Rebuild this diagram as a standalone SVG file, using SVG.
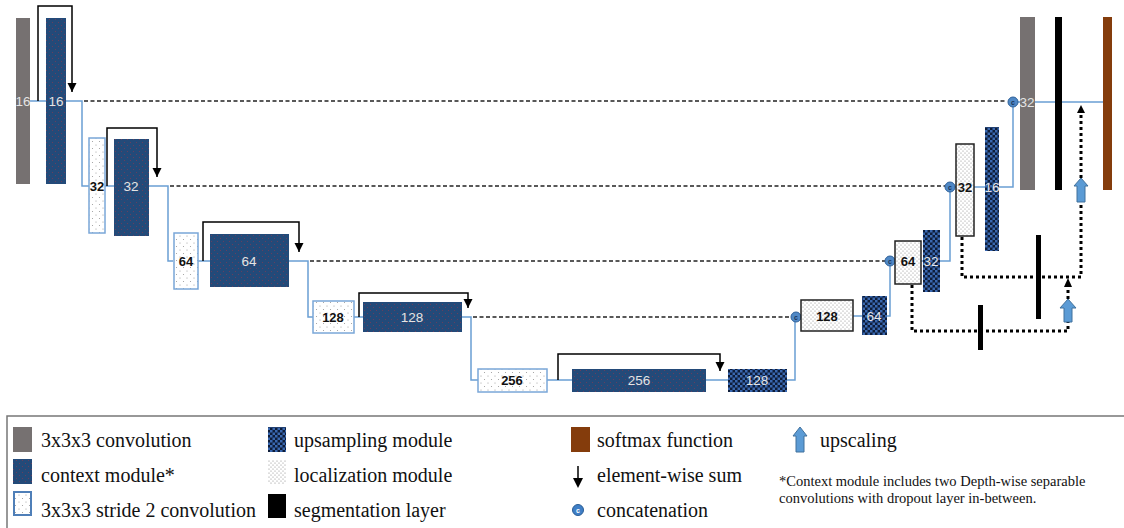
<svg xmlns="http://www.w3.org/2000/svg" width="1124" height="528" viewBox="0 0 1124 528">
<defs>
<pattern id="pctx" width="6" height="6" patternUnits="userSpaceOnUse">
<rect width="6" height="6" fill="#234a79"/>
<circle cx="1.5" cy="1.5" r="0.45" fill="#b03040"/>
<circle cx="4.5" cy="4.5" r="0.45" fill="#b03040"/>
</pattern>
<pattern id="pups" width="5" height="5" patternUnits="userSpaceOnUse">
<rect width="5" height="5" fill="#0e1d3a"/>
<rect width="2.5" height="2.5" fill="#3a68b0"/>
<rect x="2.5" y="2.5" width="2.5" height="2.5" fill="#3a68b0"/>
</pattern>
<pattern id="ploc" width="4" height="4" patternUnits="userSpaceOnUse">
<rect width="4" height="4" fill="#fff"/>
<circle cx="1" cy="1" r="0.6" fill="#8a8a8a"/>
<circle cx="3" cy="3" r="0.6" fill="#8a8a8a"/>
</pattern>
<pattern id="pstr" width="7" height="7" patternUnits="userSpaceOnUse">
<rect width="7" height="7" fill="#fff"/>
<circle cx="1.5" cy="1.5" r="0.55" fill="#999"/>
<circle cx="5" cy="5" r="0.55" fill="#999"/>
</pattern>
<marker id="ah" markerWidth="10" markerHeight="10" refX="5" refY="9" orient="0" markerUnits="userSpaceOnUse">
<path d="M0.5,0 L9.5,0 L5,9 Z" fill="#000"/>
</marker>
</defs>
<style>
.conv{fill:#767171}
.ctx{fill:url(#pctx)}
.ups{fill:url(#pups)}
.loc{fill:url(#ploc);stroke:#222;stroke-width:1.5}
.str{fill:url(#pstr);stroke:#7aa7d8;stroke-width:1.5}
.seg{fill:#000}
.soft{fill:#843c0c}
.lw{font-family:"Liberation Sans",Arial,sans-serif;font-size:13.5px;fill:#e4e4e4;text-anchor:middle;dominant-baseline:central}
.lb{font-family:"Liberation Sans",Arial,sans-serif;font-size:13px;font-weight:bold;fill:#111;text-anchor:middle;dominant-baseline:central}
.blue{fill:none;stroke:#6a9fd4;stroke-width:1.5}
.dash{fill:none;stroke:#222;stroke-width:1.7;stroke-dasharray:4 2.5}
.skip{fill:none;stroke:#000;stroke-width:1.5}
.dot{fill:none;stroke:#000;stroke-width:3;stroke-dasharray:3 3}
.cc{fill:#4f88c6;stroke:#2f6199;stroke-width:1}
.cct{font-family:"Liberation Sans",Arial,sans-serif;font-size:7px;font-weight:bold;fill:#1b3558;text-anchor:middle;dominant-baseline:central}
.up{fill:#5b9bd5;stroke:#41719c;stroke-width:1}
.lg{font-family:"Liberation Serif","Times New Roman",serif;font-size:20px;fill:#111}
.fn{font-family:"Liberation Serif","Times New Roman",serif;font-size:14.5px;fill:#111}
</style>

<g id="connectors">
<path class="blue" d="M30,101H46 M66,101H82V186H89 M105,186H114 M149,186H168V261H173 M198,261H210 M289,261H308V317H313 M354,317H363 M462,317H471V380H478 M547,380H572 M706,380H728 M787,380H795V317H801 M853,316H862 M887,316H890V261H895 M921,261H923 M940,261H950V187H956 M974,187H985 M999,187H1013V102H1020 M1035,102H1103"/>
<path class="dash" d="M84,101H1007 M170,186H945 M310,261H885 M473,317H790"/>
<path class="skip" d="M38,101V6H72V92" marker-end="url(#ah)"/>
<path class="skip" d="M107,186V128H157V177" marker-end="url(#ah)"/>
<path class="skip" d="M203,261V222H299V252" marker-end="url(#ah)"/>
<path class="skip" d="M359,317V293H468V308" marker-end="url(#ah)"/>
<path class="skip" d="M558,380V354H720V371" marker-end="url(#ah)"/>
<path class="dot" d="M962,237V277H1081V203"/>
<path class="dot" d="M1081,178V113"/>
<path d="M1077,113L1085,113L1081,105Z" fill="#000"/>
<path class="dot" d="M912,285V331H1068V322"/>
<path class="dot" d="M1068,299V287"/>
<path d="M1064,287L1072,287L1068,278Z" fill="#000"/>
<g id="concat-circles">
<circle class="cc" cx="1013" cy="102" r="5"/><text class="cct" x="1013" y="102">c</text>
<circle class="cc" cx="950" cy="187" r="5"/><text class="cct" x="950" y="187">c</text>
<circle class="cc" cx="890" cy="261" r="5"/><text class="cct" x="890" y="261">c</text>
<circle class="cc" cx="796" cy="317" r="5"/><text class="cct" x="796" y="317">c</text>
</g>
</g>

<g id="enc-conv16"><rect class="conv" x="16" y="18" width="14" height="166"/><text class="lw" x="23" y="101">16</text></g>
<g id="enc-ctx16"><rect class="ctx" x="46" y="18" width="20" height="166"/><text class="lw" x="56" y="101">16</text></g>
<g id="enc-str32"><rect class="str" x="89" y="138" width="16" height="95"/><text class="lb" x="97" y="186">32</text></g>
<g id="enc-ctx32"><rect class="ctx" x="114" y="139" width="35" height="97"/><text class="lw" x="131" y="186">32</text></g>
<g id="enc-str64"><rect class="str" x="174" y="233" width="24" height="56"/><text class="lb" x="186" y="261">64</text></g>
<g id="enc-ctx64"><rect class="ctx" x="210" y="234" width="79" height="53"/><text class="lw" x="249" y="261">64</text></g>
<g id="enc-str128"><rect class="str" x="313" y="301" width="41" height="32"/><text class="lb" x="333" y="317">128</text></g>
<g id="enc-ctx128"><rect class="ctx" x="363" y="302" width="99" height="30"/><text class="lw" x="412" y="317">128</text></g>
<g id="enc-str256"><rect class="str" x="478" y="369" width="69" height="23"/><text class="lb" x="512" y="380">256</text></g>
<g id="enc-ctx256"><rect class="ctx" x="572" y="369" width="134" height="23"/><text class="lw" x="639" y="380">256</text></g>
<g id="dec-ups128"><rect class="ups" x="728" y="369" width="59" height="23"/><text class="lw" x="757" y="380">128</text></g>
<g id="dec-loc128"><rect class="loc" x="801" y="300" width="52" height="31"/><text class="lb" x="827" y="316">128</text></g>
<g id="dec-ups64"><rect class="ups" x="862" y="296" width="25" height="39"/><text class="lw" x="874" y="316">64</text></g>
<g id="dec-loc64"><rect class="loc" x="895" y="241" width="26" height="43"/><text class="lb" x="908" y="261">64</text></g>
<g id="dec-ups32"><rect class="ups" x="923" y="230" width="17" height="62"/><text class="lw" x="931" y="261">32</text></g>
<g id="dec-loc32"><rect class="loc" x="956" y="144" width="18" height="92"/><text class="lb" x="965" y="187">32</text></g>
<g id="dec-ups16"><rect class="ups" x="985" y="127" width="14" height="124"/><text class="lw" x="992" y="187">16</text></g>
<g id="dec-conv32"><rect class="conv" x="1020" y="17" width="15" height="173"/><text class="lw" x="1027" y="102">32</text></g>
<g id="seg-top"><rect class="seg" x="1055" y="17" width="7" height="173"/></g>
<g id="softmax"><rect class="soft" x="1103" y="17" width="9" height="173"/></g>
<g id="seg-mid"><rect class="seg" x="1036" y="235" width="5" height="84"/></g>
<g id="seg-low"><rect class="seg" x="978" y="305" width="5" height="45"/></g>
<g id="upscale-1"><path class="up" d="M1081,178 L1088,186 L1085,186 L1085,202 L1077,202 L1077,186 L1074,186 Z"/></g>
<g id="upscale-2"><path class="up" d="M1068,299 L1076,308 L1072,308 L1072,322 L1064,322 L1064,308 L1060,308 Z"/></g>

<g id="legend">
<rect x="7" y="416" width="1130" height="130" fill="none" stroke="#777" stroke-width="1.5"/>
<rect x="13" y="427" width="19" height="25" class="conv"/>
<text class="lg" x="41" y="447">3x3x3 convolution</text>
<rect x="13" y="459" width="19" height="25" class="ctx"/>
<text class="lg" x="41" y="482">context module*</text>
<rect x="14" y="492" width="17" height="23" fill="url(#pstr)" stroke="#4f7fb8" stroke-width="2"/>
<text class="lg" x="41" y="517">3x3x3 stride 2 convolution</text>
<rect x="268" y="427" width="18" height="25" class="ups"/>
<text class="lg" x="294" y="447">upsampling module</text>
<rect x="268" y="460" width="18" height="24" fill="url(#ploc)"/>
<text class="lg" x="294" y="482">localization module</text>
<rect x="268" y="494" width="18" height="24" class="seg"/>
<text class="lg" x="294" y="517">segmentation layer</text>
<rect x="571" y="427" width="19" height="25" class="soft"/>
<text class="lg" x="597" y="447">softmax function</text>
<path d="M578,466V480" stroke="#000" stroke-width="1.5"/>
<path d="M573,478L583,478L578,488Z" fill="#000"/>
<text class="lg" x="597" y="482">element-wise sum</text>
<circle cx="578" cy="510" r="5.5" fill="#3f7fc6" stroke="#2a5d95" stroke-width="1"/>
<text x="578" y="510" font-family="Liberation Sans,sans-serif" font-size="7" font-weight="bold" fill="#fff" text-anchor="middle" dominant-baseline="central">c</text>
<text class="lg" x="597" y="517">concatenation</text>
<path class="up" d="M800,427 L807,436 L804,436 L804,452 L796,452 L796,436 L793,436 Z"/>
<text class="lg" x="820" y="447">upscaling</text>
<text class="fn" x="779" y="486">*Context module includes two Depth-wise separable</text>
<text class="fn" x="779" y="503">convolutions with dropout layer in-between.</text>
</g>
</svg>
